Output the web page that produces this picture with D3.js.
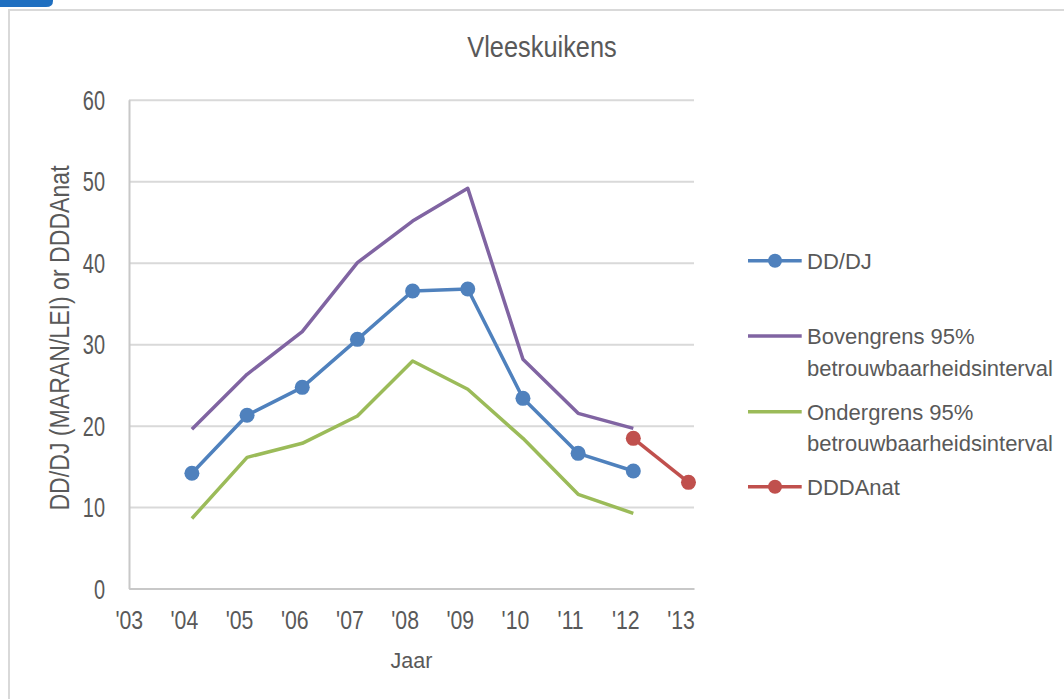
<!DOCTYPE html>
<html>
<head>
<meta charset="utf-8">
<script src="https://cdn.jsdelivr.net/npm/d3@7"></script>
<style>
  body { margin: 0; background: #fff; }
  svg { display: block; }
</style>
</head>
<body>
<div class="chart"></div>
<script>
// Data
const years = [2004, 2005, 2006, 2007, 2008, 2009, 2010, 2011, 2012];
const ddDj = [14.15, 21.27, 24.70, 30.59, 36.52, 36.77, 23.35, 16.60, 14.43];
const upper95 = [19.55, 26.30, 31.53, 40.0, 45.11, 49.12, 28.14, 21.51, 19.67];
const lower95 = [8.6, 16.11, 17.83, 21.18, 27.93, 24.46, 18.44, 11.57, 9.24];
const dddaYears = [2012, 2013];
const dddaNat = [18.44, 13.04];

const tickYears = [2003, 2004, 2005, 2006, 2007, 2008, 2009, 2010, 2011, 2012, 2013];
const tickLabels = ["'03", "'04", "'05", "'06", "'07", "'08", "'09", "'10", "'11", "'12", "'13"];
const yTicks = [0, 10, 20, 30, 40, 50, 60];

// Parameters
const width = 1064;
const height = 699;
const plot = { left: 129, right: 694, top: 99.7, bottom: 588.6 };
const textColor = '#595959';
const font = '"Liberation Sans", Arial, sans-serif';

const series = [
    { name: ['DD/DJ'], color: '#4f81bd', marker: true, points: years.map((y, i) => ({ x: y, v: ddDj[i] })) },
    { name: ['Bovengrens 95%', 'betrouwbaarheidsinterval'], color: '#8064a2', marker: false, points: years.map((y, i) => ({ x: y, v: upper95[i] })) },
    { name: ['Ondergrens 95%', 'betrouwbaarheidsinterval'], color: '#9bbb59', marker: false, points: years.map((y, i) => ({ x: y, v: lower95[i] })) },
    { name: ['DDDAnat'], color: '#c0504d', marker: true, points: dddaYears.map((y, i) => ({ x: y, v: dddaNat[i] })) }
];

const svg = d3.select('.chart')
    .append('svg')
    .attr('width', width)
    .attr('height', height)
    .style('font-family', font);

// frame + little blue tab
svg.append('rect')
    .attr('x', 9).attr('y', 10)
    .attr('width', 1200).attr('height', 900)
    .attr('fill', 'none')
    .attr('stroke', '#d9d9d9')
    .attr('stroke-width', 2);

svg.append('path')
    .attr('d', 'M0,0 H53 V1 Q53,7 46,7 H0 Z')
    .attr('fill', '#1f6fc0');

// scales (labels sit a bit left of the data positions, like the original)
const scaleX = d3.scaleLinear()
    .domain([2002.86, 2013.1])
    .range([plot.left, plot.right]);

const scaleY = d3.scaleLinear()
    .domain([0, 60])
    .range([plot.bottom, plot.top]);

// gridlines
svg.append('g')
    .attr('transform', `translate(${plot.left},0)`)
    .call(d3.axisLeft(scaleY).tickValues(yTicks).tickSize(-(plot.right - plot.left)).tickFormat(''))
    .call(g => g.select('.domain').remove())
    .call(g => g.selectAll('line').attr('stroke', '#d9d9d9').attr('stroke-width', 2));

// the original uses a condensed face, squeeze regular text horizontally
const yTickSx = 0.74;
const xTickSx = 0.85;

// y axis
const yAxis = svg.append('g')
    .attr('transform', `translate(${plot.left},0)`)
    .call(d3.axisLeft(scaleY).tickValues(yTicks).tickSize(0));
yAxis.select('.domain').attr('stroke', '#c8c8c8').attr('stroke-width', 2);
yAxis.selectAll('text')
    .attr('transform', `scale(${yTickSx},1)`)
    .attr('x', -24 / yTickSx)
    .attr('dy', '0.36em')
    .attr('fill', textColor)
    .style('font-family', font)
    .style('font-size', '27px');

// x axis
const xAxis = svg.append('g')
    .attr('transform', `translate(0,${plot.bottom})`)
    .call(d3.axisBottom(scaleX).tickValues(tickYears).tickFormat((d, i) => tickLabels[i]).tickSize(0));
xAxis.select('.domain').attr('stroke', '#c8c8c8').attr('stroke-width', 2);
xAxis.selectAll('text')
    .attr('transform', `scale(${xTickSx},1)`)
    .attr('y', 40.7)
    .attr('dy', 0)
    .attr('dx', -8 / xTickSx)
    .attr('fill', textColor)
    .style('font-family', font)
    .style('font-size', '25px');

// titles
svg.append('text')
    .attr('transform', 'translate(542,57.3) scale(0.875,1)')
    .attr('text-anchor', 'middle')
    .attr('fill', textColor)
    .style('font-size', '29px')
    .text('Vleeskuikens');

svg.append('text')
    .attr('x', (plot.left + plot.right) / 2).attr('y', 668.3)
    .attr('text-anchor', 'middle')
    .attr('fill', textColor)
    .style('font-size', '21.5px')
    .text('Jaar');

svg.append('text')
    .attr('transform', 'translate(69.3,338) rotate(-90) scale(0.825,1)')
    .attr('text-anchor', 'middle')
    .attr('fill', textColor)
    .style('font-size', '28px')
    .text('DD/DJ (MARAN/LEI) or DDDAnat');

// lines
const line = d3.line()
    .x(d => scaleX(d.x))
    .y(d => scaleY(d.v));

const lines = svg.append('g');
series.forEach(s => {
    lines.append('path')
        .datum(s.points)
        .attr('d', line)
        .attr('fill', 'none')
        .attr('stroke', s.color)
        .attr('stroke-width', 3.5)
        .attr('stroke-linejoin', 'round');
});

series.filter(s => s.marker).forEach(s => {
    lines.append('g')
        .selectAll('circle')
        .data(s.points)
        .join('circle')
        .attr('cx', d => scaleX(d.x))
        .attr('cy', d => scaleY(d.v))
        .attr('r', 7.5)
        .attr('fill', s.color);
});

// legend
const legendY = [260.7, 336, 411.7, 486.7];
const legend = svg.append('g');
series.forEach((s, i) => {
    const g = legend.append('g').attr('transform', `translate(748,${legendY[i]})`);
    g.append('line')
        .attr('x1', 0).attr('x2', 53.7)
        .attr('stroke', s.color)
        .attr('stroke-width', 3.5);
    if (s.marker) {
        g.append('circle').attr('cx', 27).attr('r', 7).attr('fill', s.color);
    }
    g.append('text')
        .attr('x', 59)
        .attr('y', 8)
        .attr('fill', textColor)
        .style('font-size', '22px')
        .selectAll('tspan')
        .data(s.name)
        .join('tspan')
        .attr('x', 59)
        .attr('dy', (d, j) => j === 0 ? 0 : 31.5)
        .text(d => d);
});
</script>
</body>
</html>
